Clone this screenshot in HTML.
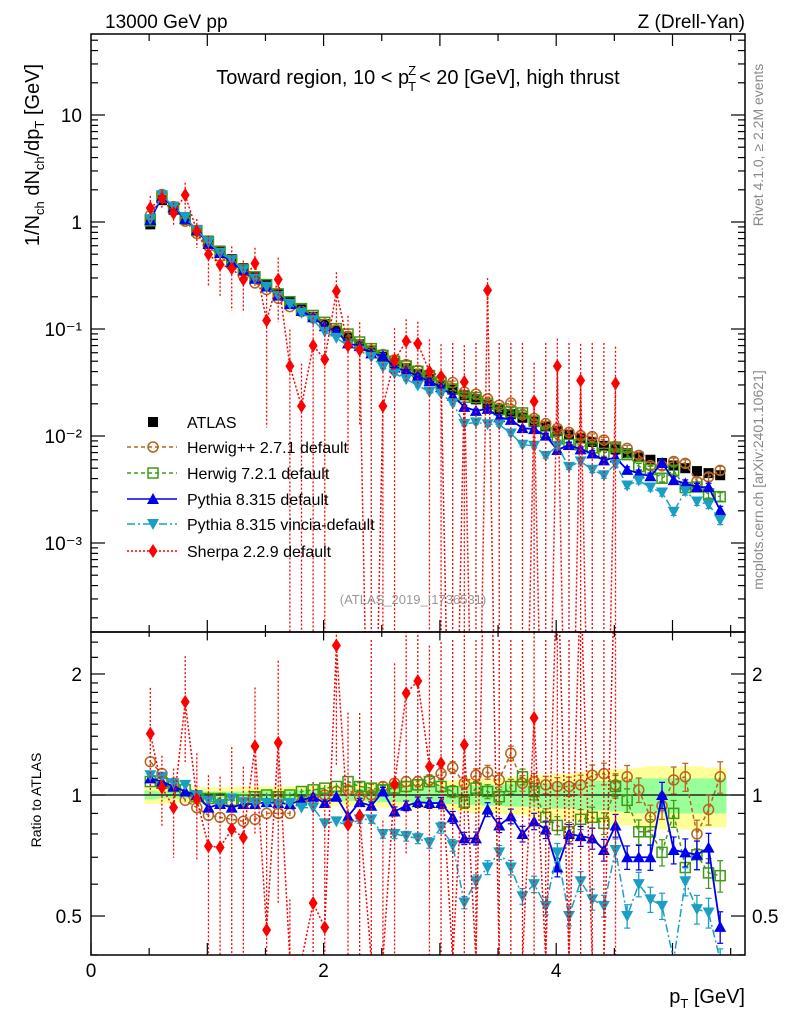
<!DOCTYPE html>
<html><head><meta charset="utf-8"><style>
html,body{margin:0;padding:0;background:#fff;overflow:hidden;}
svg{display:block;font-family:"Liberation Sans",sans-serif;}
</style></head><body>
<svg id="plot" width="786" height="1024" viewBox="0 0 786 1024" xmlns="http://www.w3.org/2000/svg">
<defs>
<clipPath id="clipMain"><rect x="91" y="34" width="654" height="598"/></clipPath>
<clipPath id="clipRatio"><rect x="91" y="632" width="654" height="323"/></clipPath>
</defs>
<g id="bands" clip-path="url(#clipRatio)"></g>
<g id="ticks"></g>
<line x1="91" y1="795" x2="745" y2="795" stroke="#000" stroke-width="1.3"/>
<g id="mainSeries" clip-path="url(#clipMain)"></g>
<g id="ratioSeries" clip-path="url(#clipRatio)"></g>
<rect x="91" y="34" width="654" height="598" fill="none" stroke="#000" stroke-width="1.5"/>
<rect x="91" y="632" width="654" height="323" fill="none" stroke="#000" stroke-width="1.5"/>
<text x="105" y="28" font-size="19">13000 GeV pp</text>
<text x="745" y="28" font-size="19" text-anchor="end">Z (Drell-Yan)</text>
<text x="418" y="84" font-size="20" text-anchor="middle">Toward region, 10 &lt; p<tspan font-size="13" dx="-1" dy="-9">Z</tspan><tspan font-size="13" dx="-8" dy="16">T</tspan><tspan dy="-7" dx="3">&lt; 20 [GeV], high thrust</tspan></text>
<text x="413" y="604" font-size="13" fill="#999" text-anchor="middle">(ATLAS_2019_I1736531)</text>
<text transform="translate(763,145) rotate(-90)" font-size="14" fill="#888" text-anchor="middle">Rivet 4.1.0, ≥ 2.2M events</text>
<text transform="translate(763,480) rotate(-90)" font-size="14" fill="#888" text-anchor="middle">mcplots.cern.ch [arXiv:2401.10621]</text>
<text transform="translate(39,155) rotate(-90)" font-size="20" text-anchor="middle">1/N<tspan font-size="13" dy="5">ch</tspan><tspan dy="-5"> dN</tspan><tspan font-size="13" dy="5">ch</tspan><tspan dy="-5">/dp</tspan><tspan font-size="13" dy="5">T</tspan><tspan dy="-5"> [GeV]</tspan></text>
<text transform="translate(41,800) rotate(-90)" font-size="14" text-anchor="middle">Ratio to ATLAS</text>
<text x="745" y="1003" font-size="20" text-anchor="end">p<tspan font-size="13" dy="5">T</tspan><tspan dy="-5"> [GeV]</tspan></text>
<g id="tickLabels" font-size="19"></g>
<g id="legend" font-size="16"></g>
</svg>
<script>
const xCenters=[0.51,0.61,0.71,0.81,0.91,1.01,1.11,1.21,1.31,1.41,1.51,1.61,1.71,1.81,1.91,2.01,2.11,2.21,2.31,2.41,2.51,2.61,2.71,2.81,2.91,3.01,3.11,3.21,3.31,3.41,3.51,3.61,3.71,3.81,3.91,4.01,4.11,4.21,4.31,4.41,4.51,4.61,4.71,4.81,4.91,5.01,5.11,5.21,5.31,5.41];
const atlas=[0.95,1.6,1.3,1.05,0.84,0.67,0.54,0.45,0.37,0.31,0.26,0.215,0.18,0.152,0.13,0.111,0.096,0.083,0.072,0.063,0.055,0.048,0.043,0.038,0.034,0.030,0.027,0.024,0.022,0.0195,0.0178,0.016,0.0148,0.0135,0.0123,0.0112,0.0103,0.0095,0.0088,0.0081,0.0075,0.0069,0.0064,0.006,0.0056,0.0053,0.005,0.0047,0.0045,0.0043];
const herwigppRatio=[1.21,1.13,1.07,0.97,0.93,0.89,0.88,0.87,0.86,0.87,0.9,0.9,0.9,0.96,0.98,1.0,1.02,1.03,0.99,1.0,1.05,1.07,1.08,1.08,1.09,1.13,1.17,1.07,1.12,1.14,1.09,1.27,1.07,1.08,1.06,1.05,1.05,1.06,1.12,1.13,1.06,1.11,1.03,0.88,0.94,1.09,1.11,0.8,0.92,1.11];
const herwig7Ratio=[1.08,1.07,1.05,1.03,0.99,0.98,0.98,0.97,0.97,0.99,1.0,0.99,1.0,1.02,1.03,1.04,1.05,1.08,1.05,1.04,1.03,1.04,1.05,1.06,1.08,1.05,1.02,0.96,1.04,1.02,0.99,1.05,1.11,1.02,0.88,0.84,0.81,0.87,0.88,0.85,1.05,0.97,0.81,0.81,0.72,0.9,0.66,0.71,0.64,0.63];
const pythiaRatio=[1.10,1.08,1.05,1.02,1.0,0.93,0.95,0.93,0.95,0.95,0.96,0.955,0.95,0.97,0.99,0.955,0.99,0.885,0.96,0.94,1.02,0.91,0.94,0.96,0.955,0.955,0.88,0.78,0.78,0.92,0.84,0.885,0.80,0.86,0.82,0.66,0.80,0.79,0.78,0.73,0.84,0.70,0.70,0.70,1.0,0.73,0.72,0.71,0.74,0.47];
const vinciaRatio=[1.12,1.11,1.07,1.06,1.0,0.97,0.95,0.98,0.96,0.955,0.955,0.95,0.955,0.93,0.93,0.85,0.86,0.84,0.87,0.87,0.80,0.80,0.79,0.78,0.76,0.83,0.75,0.54,0.61,0.66,0.72,0.66,0.56,0.60,0.53,0.72,0.50,0.61,0.55,0.53,0.73,0.50,0.60,0.55,0.53,0.37,0.61,0.52,0.51,0.38];
const sherpa=[1.35,1.67,1.21,1.79,0.82,0.50,0.40,0.37,0.29,0.41,0.12,0.29,0.045,0.019,0.07,0.052,0.226,0.07,0.064,0,0.019,0.051,0.077,0.073,0.04,0.036,0,0.032,0,0.23,0,0,0,0.021,0,0.045,0,0.033,0,0,0.031,null,null,null,null,null,null,null,null,null];
const sherpaRelErr=[0.3,0.2,0.25,0.3,0.3,0.5,0.5,0.6,0.5,0.4,0.9,0.6,1.2,1.5,1.0,1.2,0.5,0.9,0.8,1,1.5,1.0,0.6,0.6,1,1,1,1.2,1,0.3,1,1,1,1.3,1,0.8,1,1.2,1,1,1.2,0,0,0,0,0,0,0,0,0];
const mcRelErr=[0.01,0.01,0.01,0.01,0.01,0.01,0.01,0.012,0.012,0.012,0.014,0.014,0.015,0.016,0.017,0.018,0.02,0.02,0.022,0.023,0.024,0.026,0.028,0.03,0.03,0.032,0.034,0.035,0.037,0.04,0.04,0.042,0.045,0.047,0.05,0.052,0.055,0.057,0.06,0.062,0.065,0.067,0.07,0.072,0.075,0.077,0.08,0.082,0.085,0.09];
const bandTotal=[0.05,0.05,0.045,0.045,0.045,0.045,0.045,0.045,0.05,0.05,0.05,0.05,0.05,0.055,0.055,0.06,0.06,0.06,0.065,0.065,0.07,0.07,0.075,0.08,0.08,0.085,0.09,0.09,0.1,0.1,0.1,0.11,0.11,0.12,0.12,0.13,0.13,0.14,0.15,0.15,0.16,0.16,0.17,0.18,0.18,0.17,0.18,0.18,0.17,0.17];
const bandStat=[0.025,0.02,0.02,0.02,0.02,0.02,0.02,0.02,0.02,0.025,0.025,0.025,0.025,0.03,0.03,0.03,0.03,0.035,0.035,0.035,0.04,0.04,0.04,0.045,0.045,0.05,0.05,0.055,0.055,0.06,0.06,0.065,0.065,0.07,0.07,0.075,0.075,0.08,0.085,0.085,0.09,0.09,0.1,0.1,0.1,0.1,0.1,0.1,0.1,0.1];
const xTickLabels=["0","2","4"];
const yTickLabels=["10","1","10⁻¹","10⁻²","10⁻³"];
const ratioTickLabels=["2","1","0.5"];

const NS="http://www.w3.org/2000/svg";
function xp(x){return 91+116.3*x;}
function ym(v){return 222-107*Math.log10(v);}
function yr(r){return 795-402*Math.log10(r);}
function mk(tag,attrs,parent){const e=document.createElementNS(NS,tag);for(const k in attrs)e.setAttribute(k,attrs[k]);parent.appendChild(e);return e;}
const G=id=>document.getElementById(id);
const bw=0.05;
const BOTTOM=960;

const bands=G('bands');
xCenters.forEach((x,i)=>{
  let r=mk('rect',{x:xp(x-bw),y:yr(1+bandTotal[i]),width:116.3*0.1+0.5,height:yr(1-bandTotal[i])-yr(1+bandTotal[i]),fill:'#ffff99'},bands);
  
  
});
xCenters.forEach((x,i)=>{
  let r=mk('rect',{x:xp(x-bw),y:yr(1+bandStat[i]),width:116.3*0.1+0.5,height:yr(1-bandStat[i])-yr(1+bandStat[i]),fill:'#99ff99'},bands);
  
  
});

const tk=G('ticks');
function tline(x1,y1,x2,y2){mk('line',{x1,y1,x2,y2,stroke:'#000','stroke-width':1.2},tk);}
for(let x=0.5;x<5.7;x+=0.5){const X=xp(x);const big=Math.abs(x-Math.round(x))<0.01;const L=big?12:7;
  tline(X,34,X,34+L);tline(X,632,X,632-L);tline(X,632,X,632+L*0.7);tline(X,955,X,955-L);}
tline(xp(0),955,xp(0),943);
for(let d=-4;d<=1;d++){for(let m=1;m<10;m++){const v=m*Math.pow(10,d);const Y=ym(v);if(Y<34||Y>632)continue;const L=m==1?14:7;tline(91,Y,91+L,Y);tline(745,Y,745-L,Y);}}
[0.4,0.5,0.6,0.7,0.8,0.9,1,2].forEach(r=>{const Y=yr(r);const L=(r==0.5||r==1||r==2)?14:7;tline(91,Y,91+L,Y);tline(745,Y,745-L,Y);});
[1.1,1.2,1.3,1.4,1.5,1.6,1.7,1.8,1.9,2.2,2.4].forEach(r=>{const Y=yr(r);if(Y<632)return;tline(91,Y,98,Y);tline(745,Y,738,Y);});

const tl=G('tickLabels');
[0,2,4].forEach((x,i)=>{const t=mk('text',{x:xp(x),y:977,'text-anchor':'middle'},tl);t.textContent=xTickLabels[i];});
[10,1,0.1,0.01,0.001].forEach((v,i)=>{const t=mk('text',{x:82,y:ym(v)+7,'text-anchor':'end'},tl);t.textContent=yTickLabels[i];});
[2,1,0.5].forEach((r,i)=>{const t=mk('text',{x:82,y:yr(r)+7,'text-anchor':'end'},tl);t.textContent=ratioTickLabels[i];
  const t2=mk('text',{x:752,y:yr(r)+7},tl);t2.textContent=ratioTickLabels[i];});

function marker(type,X,Y,col,g){
  if(type=='sq') return mk('rect',{x:X-5,y:Y-5,width:10,height:10,fill:'#000'},g);
  if(type=='osq') return mk('rect',{x:X-5,y:Y-5,width:10,height:10,fill:'none',stroke:col,'stroke-width':1.5},g);
  if(type=='oc') return mk('circle',{cx:X,cy:Y,r:5,fill:'none',stroke:col,'stroke-width':1.5},g);
  if(type=='up') return mk('path',{d:`M${X},${Y-6}L${X+6},${Y+5}L${X-6},${Y+5}Z`,fill:col},g);
  if(type=='dn') return mk('path',{d:`M${X},${Y+6}L${X+6},${Y-5}L${X-6},${Y-5}Z`,fill:col},g);
  if(type=='dia') return mk('path',{d:`M${X},${Y-7}L${X+4.5},${Y}L${X},${Y+7}L${X-4.5},${Y}Z`,fill:col},g);
}
const series=[
 {name:'herwigpp',col:'#b5651d',type:'oc',dash:'4,3',vals:()=>atlas.map((a,i)=>a*herwigppRatio[i]),err:mcRelErr},
 {name:'herwig7',col:'#3d9a14',type:'osq',dash:'4,3',vals:()=>atlas.map((a,i)=>a*herwig7Ratio[i]),err:mcRelErr},
 {name:'pythia',col:'#0000ee',type:'up',dash:'',vals:()=>atlas.map((a,i)=>a*pythiaRatio[i]),err:mcRelErr},
 {name:'vincia',col:'#1a9fc4',type:'dn',dash:'8,3,2,3',vals:()=>atlas.map((a,i)=>a*vinciaRatio[i]),err:mcRelErr},
 {name:'sherpa',col:'#ff0000',type:'dia',dash:'2,2',vals:()=>sherpa.slice(),err:sherpaRelErr}
];
const mainG=G('mainSeries'), ratG=G('ratioSeries');
atlas.forEach((v,i)=>{const m=marker('sq',xp(xCenters[i]),ym(v),'#000',mainG);
  
  });
function clampY(y){return Math.max(20,Math.min(BOTTOM,y));}
function drawSeries(s,g,fy,vals,ref){
  const pts=[];
  vals.forEach((v,i)=>{if(v===null)return;const r=ref?v/ref[i]:v;const Y=r>0?clampY(fy(r)):BOTTOM;pts.push([xp(xCenters[i]),Y,r,i]);});
  const p=mk('polyline',{points:pts.map(q=>q[0]+','+q[1]).join(' '),fill:'none',stroke:s.col,'stroke-width':s.name=='pythia'?1.8:1.5,'stroke-dasharray':s.dash},g);
  
  
  pts.forEach(q=>{const e=s.err[q[3]];if(q[2]>0&&e>0){const lo=q[2]*(1-e)>0?clampY(fy(q[2]*(1-e))):BOTTOM;const hi=clampY(fy(q[2]*(1+e)));
      const l=mk('line',{x1:q[0],y1:hi,x2:q[0],y2:lo,stroke:s.col,'stroke-width':1.3,'stroke-dasharray':s.name=='sherpa'?'2,2':''},g);
      
      
      if(s.name!='sherpa'&&e>0.02){mk('line',{x1:q[0]-3,y1:hi,x2:q[0]+3,y2:hi,stroke:s.col,'stroke-width':1.2},g);mk('line',{x1:q[0]-3,y1:lo,x2:q[0]+3,y2:lo,stroke:s.col,'stroke-width':1.2},g);}}
    else if(q[2]<=0){const l=mk('line',{x1:q[0],y1:fy===ym?ym(0.001)-200:640,x2:q[0],y2:BOTTOM,stroke:s.col,'stroke-width':1.3,'stroke-dasharray':'2,2'},g);
      
      }
  });
  pts.forEach(q=>{if(q[2]>0&&q[1]<BOTTOM){const m=marker(s.type,q[0],q[1],s.col,g);
    
    }});
}
series.forEach(s=>{const v=s.vals();drawSeries(s,mainG,ym,v,null);drawSeries(s,ratG,yr,v,atlas);});

const lg=G('legend');
const legendNames=['ATLAS','Herwig++ 2.7.1 default','Herwig 7.2.1 default','Pythia 8.315 default','Pythia 8.315 vincia-default','Sherpa 2.2.9 default'];
const legendY=[422,447,473,499,524,551];
legendNames.forEach((n,i)=>{
  const g=mk('g',{},lg);
  
  
  const Y=legendY[i];
  if(i==0){marker('sq',153,Y,'#000',g);}
  else{const s=series[i-1];mk('line',{x1:127,y1:Y,x2:177,y2:Y,stroke:s.col,'stroke-width':1.5,'stroke-dasharray':s.dash},g);marker(s.type,153,Y,s.col,g);}
  const t=mk('text',{x:187,y:Y+6},g);t.textContent=n;
});
</script>
</body></html>
